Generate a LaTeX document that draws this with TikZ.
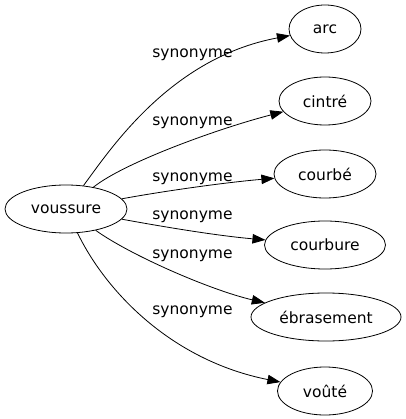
\documentclass[tikz,border=0pt]{standalone}
\usepackage{fontspec}
\setmainfont{DejaVu Sans}
\usetikzlibrary{shapes.geometric,arrows.meta}
\begin{document}
\begin{tikzpicture}[x=1pt,y=-1pt,
  nd/.style={ellipse,draw,line width=0.8pt,minimum height=48pt,inner sep=0pt,font=\fontsize{15.5}{18}\selectfont},
  lbl/.style={anchor=base,inner sep=0pt,font=\fontsize{15.5}{18}\selectfont},
  edge/.style={line width=0.8pt,-{Triangle[length=13pt,width=9.5pt]}}]
\useasboundingbox (0,0) rectangle (405,419);
\node[nd,minimum width=122pt] (v) at (66,209) {voussure};
\node[nd,minimum width=72pt] (a) at (325,29) {arc};
\node[nd,minimum width=92pt] (b) at (325,101) {cintré};
\node[nd,minimum width=102pt] (c) at (325,174) {courbé};
\node[nd,minimum width=121pt] (d) at (325,245) {courbure};
\node[nd,minimum width=150pt] (e) at (326,317) {ébrasement};
\node[nd,minimum width=95pt] (f) at (325,391) {voûté};
\node[lbl] (l1) at (192.5,58) {synonyme};
\node[lbl] (l2) at (192.5,126) {synonyme};
\node[lbl] (l3) at (192.5,182) {synonyme};
\node[lbl] (l4) at (192.5,219) {synonyme};
\node[lbl] (l5) at (192.5,258) {synonyme};
\node[lbl] (l6) at (192.5,314) {synonyme};
\draw[edge] (v) .. controls (110,150) and (170,58) .. (a);
\draw[edge] (v) .. controls (125,162) and (220,128) .. (b);
\draw[edge] (v) .. controls (170,190) and (230,182) .. (c);
\draw[edge] (v) .. controls (170,228) and (220,236) .. (d);
\draw[edge] (v) .. controls (130,255) and (210,290) .. (e);
\draw[edge] (v) .. controls (105,290) and (170,360) .. (f);
\end{tikzpicture}
\end{document}
